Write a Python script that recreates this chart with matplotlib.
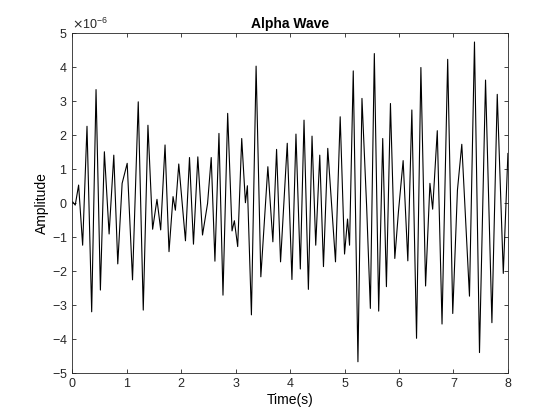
import matplotlib
matplotlib.use("Agg")
import matplotlib.pyplot as plt
import matplotlib.ticker as mticker
import numpy as np

plt.rcParams['font.family'] = ['Liberation Sans', 'DejaVu Sans']

# peaks and troughs (time in s, amplitude in 1e-6)
t_s = [0.0, 0.006, 0.055, 0.117, 0.191, 0.271, 0.357, 0.437, 0.517, 0.590, 0.677,
       0.763, 0.836, 0.916, 1.009, 1.107, 1.212, 1.304, 1.390, 1.476, 1.556,
       1.624, 1.704, 1.777, 1.851, 1.894, 1.956, 2.079, 2.153, 2.226, 2.306,
       2.392, 2.485, 2.552, 2.620, 2.694, 2.768, 2.854, 2.934, 2.977, 3.038,
       3.112, 3.180, 3.216, 3.290, 3.376, 3.463, 3.592, 3.684, 3.752, 3.825,
       3.948, 4.034, 4.108, 4.188, 4.256, 4.336, 4.403, 4.471, 4.545, 4.613,
       4.692, 4.834, 4.920, 5.000, 5.055, 5.092, 5.160, 5.246, 5.320, 5.406,
       5.474, 5.547, 5.627, 5.701, 5.769, 5.843, 5.923, 5.990, 6.076, 6.162,
       6.236, 6.322, 6.402, 6.488, 6.568, 6.618, 6.703, 6.790, 6.894, 6.987,
       7.073, 7.153, 7.294, 7.386, 7.478, 7.589, 7.706, 7.804, 7.915, 8.0]
amp_u = [0.0, 0.04, -0.06, 0.53, -1.24, 2.26, -3.20, 3.34, -2.56, 1.51, -0.91,
         1.41, -1.79, 0.58, 1.17, -2.26, 2.98, -3.15, 2.29, -0.77, 0.11,
         -0.79, 1.71, -1.43, 0.19, -0.21, 1.15, -1.11, 1.34, -1.21, 1.36,
         -0.94, -0.01, 1.34, -1.71, 2.05, -2.71, 2.64, -0.82, -0.52, -1.28,
         1.90, 0.01, 0.51, -3.29, 4.03, -2.17, 1.07, -1.14, 1.58, -1.73,
         1.76, -2.25, 2.03, -1.94, 2.44, -2.54, 1.97, -1.24, 1.41, -1.87,
         1.61, -1.73, 2.54, -1.50, -0.47, -1.24, 3.89, -4.67, 3.08, -0.11,
         -3.10, 4.40, -3.18, 1.90, -2.46, 2.93, -1.63, -0.25, 1.25, -1.70,
         2.74, -3.98, 3.99, -2.44, 0.58, -0.18, 2.13, -3.56, 4.23, -3.25,
         0.38, 1.73, -2.74, 4.74, -4.40, 3.62, -3.52, 3.20, -2.07, 1.46]

amplitude = np.array(amp_u) * 1e-6

fig = plt.figure(figsize=(5.6, 4.2), dpi=100)
ax = fig.add_axes([0.129, 0.112, 0.778, 0.809])
ax.plot(t_s, amplitude, color="black", linewidth=0.8)

ax.set_xlim(0, 8)
ax.set_ylim(-5e-6, 5e-6)
ax.set_xticks(range(0, 9))
ax.set_yticks(np.arange(-5, 6) * 1e-6)
fmt = mticker.ScalarFormatter(useMathText=True)
fmt.set_powerlimits((-3, 3))
ax.yaxis.set_major_formatter(fmt)
ax.yaxis.get_offset_text().set_fontsize(9)

ax.tick_params(direction="in", top=True, right=True, labelsize=9,
               length=3, width=0.6, colors="#262626")
for s in ax.spines.values():
    s.set_linewidth(0.6)
    s.set_color("#262626")

ax.set_title("Alpha Wave", fontsize=10, fontweight="bold", pad=4)
ax.set_xlabel("Time(s)", fontsize=10, labelpad=2)
ax.set_ylabel("Amplitude", fontsize=10, labelpad=2)

fig.savefig("out.png", dpi=100)
